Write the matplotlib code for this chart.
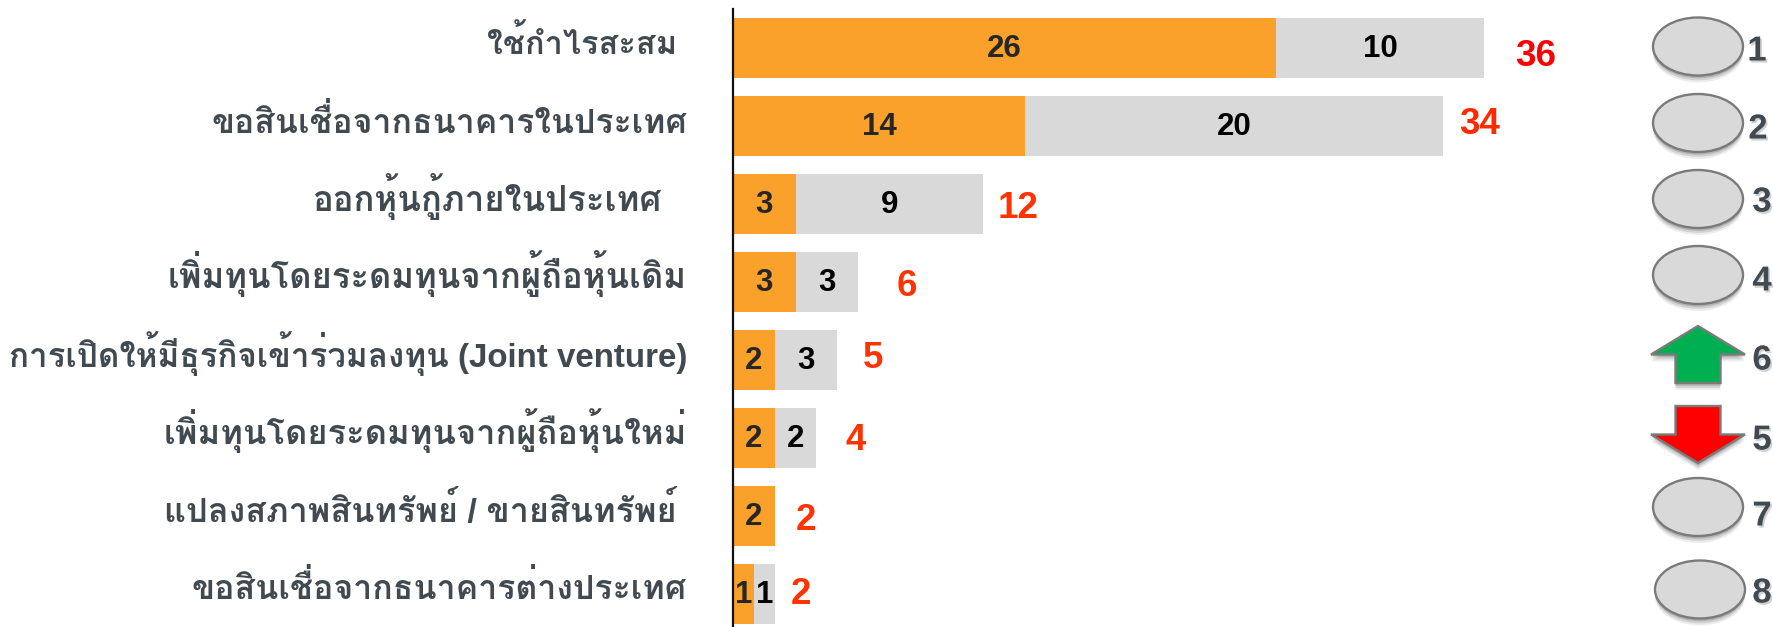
import matplotlib
matplotlib.use('Agg')
import matplotlib.pyplot as plt
import matplotlib.patheffects as pe
from matplotlib.patches import Ellipse, Polygon
from matplotlib.transforms import ScaledTranslation

categories = ['ใช้กำไรสะสม', 'ขอสินเชื่อจากธนาคารในประเทศ', 'ออกหุ้นกู้ภายในประเทศ',
              'เพิ่มทุนโดยระดมทุนจากผู้ถือหุ้นเดิม', 'การเปิดให้มีธุรกิจเข้าร่วมลงทุน (Joint venture)',
              'เพิ่มทุนโดยระดมทุนจากผู้ถือหุ้นใหม่', 'แปลงสภาพสินทรัพย์ / ขายสินทรัพย์',
              'ขอสินเชื่อจากธนาคารต่างประเทศ']
orange_values = [26, 14, 3, 3, 2, 2, 2, 1]
grey_values = [10, 20, 9, 3, 3, 2, 0, 1]
totals = [36, 34, 12, 6, 5, 4, 2, 2]
ranks = ['1', '2', '3', '4', '6', '5', '7', '8']
trends = ['same', 'same', 'same', 'same', 'up', 'down', 'same', 'same']

W, H = 1774, 627
FAM = ['Liberation Sans', 'Loma']
SLATE = '#414A50'
DPI = 100
px = 72 / DPI

fig = plt.figure(figsize=(W / DPI, H / DPI), dpi=DPI, facecolor='white')
X0, Y_TOP = 733, 9
UNIT, PITCH, C0 = 20.87, 78.0, 48.0
ax = fig.add_axes([X0 / W, 0, 1 - X0 / W, 1 - Y_TOP / H])
ax.set_xlim(0, (W - X0) / UNIT)
ax.set_ylim((H - C0) / PITCH, (Y_TOP - C0) / PITCH)
for s in ('top', 'right', 'bottom'):
    ax.spines[s].set_visible(False)
ax.spines['left'].set_linewidth(1.6)
ax.spines['left'].set_color('#111111')
ax.xaxis.set_visible(False)

pos = list(range(len(categories)))
ax.barh(pos, orange_values, height=60 / PITCH, color='#F9A12B', zorder=2)
ax.barh(pos, grey_values, left=orange_values, height=60 / PITCH, color='#D9D9D9', zorder=2)

ax.set_yticks(pos, categories)
ax.tick_params(axis='y', length=0, pad=0)
label_dx = [-56, -46, -72, -46, -46, -46, -56, -46]
label_base = [-6, -7, -7, -6, -7, -6, -6, -5]
label_size = [23.4, 24.3, 25.0, 24.9, 23.9, 24.8, 24.6, 24.4]
for lab, dx, dy, fs in zip(ax.get_yticklabels(), label_dx, label_base, label_size):
    lab.set_family(FAM)
    lab.set_fontweight('bold')
    lab.set_fontsize(fs)
    lab.set_color(SLATE)
    lab.set_verticalalignment('baseline')
    lab.set_transform(lab.get_transform() + ScaledTranslation(dx / DPI, dy / DPI, fig.dpi_scale_trans))

for i, (o, g) in enumerate(zip(orange_values, grey_values)):
    ax.text(o / 2, i + 0.012, str(o), ha='center', va='center', family=FAM, fontweight='bold',
            fontsize=22.5, color='#262626', zorder=3)
    if g:
        ax.text(o + g / 2, i + 0.012, str(g), ha='center', va='center', family=FAM, fontweight='bold',
                fontsize=22.5, color='#000000', zorder=3)

total_offset = [51, 37, 35, 49, 36, 39, 31, 26]
total_dy = [8, -1, 4, 5, -1, 2, 4, 0]
total_colors = ['#FF0000', '#FF2A00', '#FF3300', '#FF3300', '#FF3300', '#FF3300', '#FF3300', '#FF3300']
for i, (t, dx, dy, c) in enumerate(zip(totals, total_offset, total_dy, total_colors)):
    ax.annotate(str(t), (t, i), xytext=(dx * px, -dy * px), textcoords='offset points',
                ha='center', va='center', family=FAM, fontweight='bold', fontsize=26.5, color=c,
                zorder=3)

# Rank / trend column at the right, laid out in figure pixels
ov = fig.add_axes([0, 0, 1, 1], facecolor='none')
ov.set_xlim(0, W)
ov.set_ylim(H, 0)
ov.axis('off')

shape_cy = [46.5, 123, 199, 275, 354.5, 434.5, 507, 589.5]
shape_cx = [1698] * 7 + [1700]
rank_x = [1757, 1758, 1762, 1762, 1762, 1762, 1762, 1762]
rank_y = [51, 129, 202, 281, 360, 440, 516, 593]
shadow = [pe.SimplePatchShadow(offset=(0, -k), shadow_rgbFace='#000000', alpha=a, rho=1)
          for k, a in ((5.0, 0.07), (3.5, 0.11), (2.0, 0.15))] + [pe.Normal()]
ARW = dict(hw=47, hh=28.5, sw=22.5)
for cx, cy, tr in zip(shape_cx, shape_cy, trends):
    style = dict(lw=1.7, edgecolor='#7A7A7A', zorder=2, path_effects=shadow)
    if tr == 'same':
        ov.add_patch(Ellipse((cx, cy), 90, 58, facecolor='#D9D9D9', **style))
    else:
        hw, hh, sw = ARW['hw'], ARW['hh'], ARW['sw']
        s = -1 if tr == 'up' else 1
        pts = [(cx, cy + s * hh), (cx + hw, cy), (cx + sw, cy),
               (cx + sw, cy - s * hh), (cx - sw, cy - s * hh), (cx - sw, cy),
               (cx - hw, cy)]
        ov.add_patch(Polygon(pts, closed=True, joinstyle='miter',
                             facecolor='#00B050' if tr == 'up' else '#FF0000', **style))
text_shadow = [pe.withSimplePatchShadow(offset=(1.2, -1.5), shadow_rgbFace='#000000', alpha=0.18, rho=1)]
for r, x, y in zip(ranks, rank_x, rank_y):
    ov.text(x, y, r, ha='center', va='center', family=FAM, fontweight='bold', fontsize=25,
            color=SLATE, path_effects=text_shadow)

fig.savefig('out.png', dpi=DPI)
